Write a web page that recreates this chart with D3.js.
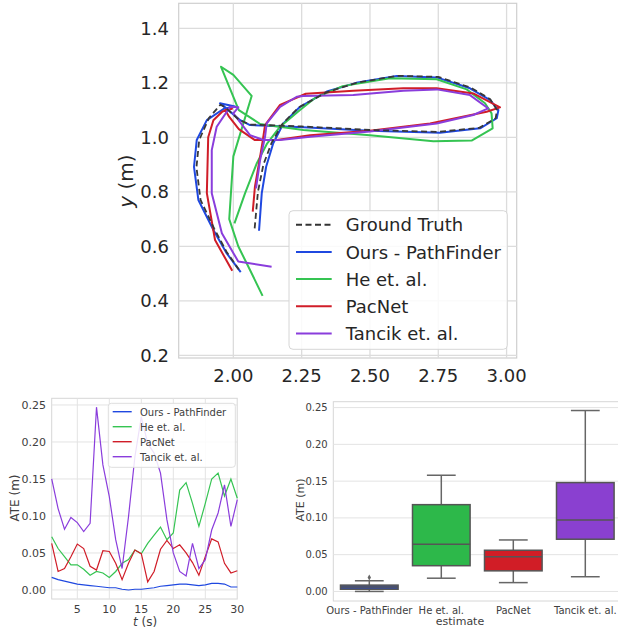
<!DOCTYPE html>
<html>
<head>
<meta charset="utf-8">
<script src="https://cdn.jsdelivr.net/npm/d3@7"></script>
<style>
  body { margin: 0; background: #fff; }
  text { font-family: "DejaVu Sans", sans-serif; fill: #262626; }
</style>
</head>
<body>
<svg id="chart" width="618" height="627"></svg>
<script>
// ---- data ----
const methods = ["Ours - PathFinder", "He et. al.", "PacNet", "Tancik et. al."];
const colors = ["#1f48e0", "#35c452", "#d01d28", "#8a3ddc"];
const boxColors = ["#2a47bd", "#2db84a", "#d11d26", "#8a40d0"];

// trajectories (x, y in m)
const gtPath = [[2.078,0.666],[2.09,0.80],[2.11,0.90],[2.14,0.98],[2.18,1.05],[2.24,1.11],[2.34,1.165],[2.45,1.20],[2.6,1.226],[2.75,1.222],[2.87,1.182],[2.94,1.14],[2.965,1.10],[2.96,1.07],[2.90,1.035],[2.75,1.02],[2.5,1.027],[2.25,1.04],[2.06,1.047],[2.02,1.065],[1.97,1.11],[1.953,1.12],[1.91,1.07],[1.875,0.99],[1.865,0.89],[1.88,0.77],[1.93,0.665],[1.975,0.58],[2.02,0.515]];
const oursPath = [[2.094,0.657],[2.104,0.795],[2.12,0.892],[2.146,0.978],[2.183,1.051],[2.244,1.112],[2.342,1.168],[2.45,1.20],[2.598,1.225],[2.744,1.22],[2.866,1.18],[2.94,1.137],[2.97,1.10],[2.964,1.07],[2.903,1.033],[2.756,1.017],[2.50,1.024],[2.256,1.037],[2.061,1.045],[2.025,1.063],[1.97,1.11],[1.951,1.125],[2.006,1.113],[1.965,1.105],[1.903,1.063],[1.866,0.99],[1.856,0.892],[1.872,0.77],[1.927,0.66],[1.976,0.574],[2.027,0.505]];
const hePath = [[2.004,0.684],[2.043,0.795],[2.086,0.905],[2.124,0.978],[2.171,1.039],[2.244,1.10],[2.30,1.145],[2.40,1.188],[2.573,1.217],[2.744,1.213],[2.854,1.176],[2.921,1.125],[2.945,1.088],[2.949,1.033],[2.872,0.988],[2.732,0.986],[2.50,1.008],[2.256,1.027],[2.122,1.045],[2.098,1.049],[2.02,1.10],[1.955,1.259],[2.0,1.229],[2.067,1.152],[2.0,0.93],[1.985,0.70],[2.018,0.60],[2.061,0.513],[2.107,0.418]];
const pacnetPath = [[2.071,0.727],[2.079,0.819],[2.098,0.929],[2.107,0.984],[2.116,1.045],[2.171,1.119],[2.265,1.160],[2.439,1.171],[2.622,1.18],[2.744,1.18],[2.878,1.161],[2.976,1.11],[2.927,1.094],[2.72,1.051],[2.50,1.024],[2.281,1.008],[2.159,0.99],[2.079,0.99],[2.02,1.03],[1.985,1.075],[1.97,1.10],[1.995,1.105],[1.96,1.095],[1.927,1.063],[1.908,1.0],[1.903,0.795],[1.933,0.623],[1.996,0.51]];
const tancikPath = [[2.083,0.813],[2.098,0.917],[2.116,1.002],[2.122,1.051],[2.171,1.112],[2.232,1.149],[2.256,1.152],[2.439,1.155],[2.622,1.171],[2.744,1.176],[2.866,1.155],[2.933,1.106],[2.878,1.082],[2.744,1.051],[2.50,1.021],[2.281,1.002],[2.171,0.99],[2.11,0.99],[2.061,1.008],[2.0,1.088],[2.018,1.11],[1.988,1.112],[1.939,1.039],[1.921,0.953],[1.921,0.795],[1.958,0.648],[2.018,0.544],[2.14,0.525]];
const paths = [oursPath, hePath, pacnetPath, tancikPath];

// ATE over time
const tSec = d3.range(1, 31);
const ateOurs = [0.017,0.014,0.012,0.010,0.008,0.007,0.006,0.005,0.004,0.003,0.003,0.001,0.000,0.001,0.001,0.002,0.003,0.005,0.006,0.007,0.008,0.008,0.007,0.006,0.007,0.009,0.009,0.008,0.004,0.004];
const ateHe = [0.072,0.056,0.045,0.034,0.034,0.028,0.020,0.025,0.023,0.017,0.025,0.036,0.041,0.054,0.049,0.063,0.074,0.085,0.068,0.077,0.135,0.145,0.117,0.086,0.117,0.150,0.158,0.127,0.150,0.124];
const atePacNet = [0.063,0.025,0.029,0.045,0.062,0.056,0.032,0.027,0.053,0.052,0.036,0.014,0.036,0.054,0.049,0.011,0.025,0.055,0.067,0.056,0.061,0.050,0.037,0.020,0.045,0.069,0.065,0.036,0.023,0.026];
const ateTancik = [0.150,0.110,0.082,0.098,0.091,0.079,0.090,0.247,0.169,0.126,0.068,0.029,0.099,0.180,0.234,0.198,0.185,0.158,0.095,0.050,0.025,0.019,0.063,0.029,0.041,0.081,0.104,0.142,0.086,0.122];
const ateSeries = [ateOurs, ateHe, atePacNet, ateTancik];

// box statistics per method
const boxLow = [0.000, 0.018, 0.012, 0.020];
const boxQ1 = [0.003, 0.035, 0.028, 0.071];
const boxMed = [0.006, 0.064, 0.047, 0.097];
const boxQ3 = [0.0086, 0.118, 0.056, 0.148];
const boxHigh = [0.0145, 0.158, 0.070, 0.246];
const boxOutliers = [[0.019], [], [], []];

const xTicksTop = [2.0, 2.25, 2.5, 2.75, 3.0];
const yTicksTop = [0.2, 0.4, 0.6, 0.8, 1.0, 1.2, 1.4];
const tTicks = [5, 10, 15, 20, 25, 30];
const ateTicks = [0.00, 0.05, 0.10, 0.15, 0.20, 0.25];

const svg = d3.select("#chart");
const gridCol = "#dcdcdc";

// ================= top: trajectories =================
const xT = d3.scaleLinear().domain([1.80, 3.037]).range([178.7, 516.7]);
const yT = d3.scaleLinear().domain([0.19, 1.492]).range([358, 3.3]);
const topG = svg.append("g");
topG.append("rect").attr("x", 178.7).attr("y", 3.3).attr("width", 338).attr("height", 354.7)
  .attr("fill", "#fff").attr("stroke", "#cfcfcf").attr("stroke-width", 1.2);
topG.selectAll(".gx").data(xTicksTop).enter().append("line")
  .attr("x1", d => xT(d)).attr("x2", d => xT(d)).attr("y1", 3.3).attr("y2", 358)
  .attr("stroke", gridCol).attr("stroke-width", 1.3);
topG.selectAll(".gy").data(yTicksTop).enter().append("line")
  .attr("y1", d => yT(d)).attr("y2", d => yT(d)).attr("x1", 178.7).attr("x2", 516.7)
  .attr("stroke", gridCol).attr("stroke-width", 1.3);
topG.selectAll(".tx").data(xTicksTop).enter().append("text")
  .attr("x", d => xT(d)).attr("y", 382).attr("text-anchor", "middle")
  .style("font-size", "18px").text(d3.format(".2f"));
topG.selectAll(".ty").data(yTicksTop).enter().append("text")
  .attr("x", 169).attr("y", d => yT(d) + 6.5).attr("text-anchor", "end")
  .style("font-size", "18px").text(d3.format(".1f"));
const ylabTop = topG.append("text").attr("transform", "translate(133,181) rotate(-90)")
  .attr("text-anchor", "middle").style("font-size", "20px");
ylabTop.append("tspan").style("font-style", "italic").text("y");
ylabTop.append("tspan").text(" (m)");

const lineT = d3.line().x(d => xT(d[0])).y(d => yT(d[1]));
paths.forEach((p, i) => {
  topG.append("path").datum(p).attr("d", lineT).attr("fill", "none")
    .attr("stroke", colors[i]).attr("stroke-width", 2).attr("stroke-linejoin", "round");
});
topG.append("path").datum(gtPath).attr("d", lineT).attr("fill", "none")
  .attr("stroke", "#383838").attr("stroke-width", 1.8).attr("stroke-dasharray", "6,3.5");

// legend top
const legT = topG.append("g");
legT.append("rect").attr("x", 289).attr("y", 210.7).attr("width", 218.3).attr("height", 138.6)
  .attr("rx", 4).attr("fill", "#fff").attr("fill-opacity", 0.85).attr("stroke", "#d6d6d6");
const legNamesTop = ["Ground Truth"].concat(methods);
const legColsTop = ["#333"].concat(colors);
legNamesTop.forEach((n, i) => {
  const y = 224.7 + i * 27.2;
  legT.append("line").attr("x1", 296).attr("x2", 331.7).attr("y1", y).attr("y2", y)
    .attr("stroke", legColsTop[i]).attr("stroke-width", 2)
    .attr("stroke-dasharray", i === 0 ? "6,3.5" : null);
  legT.append("text").attr("x", 345.7).attr("y", y + 6.7).style("font-size", "18px").text(n);
});

// ================= bottom-left: ATE over time =================
const xL = d3.scaleLinear().domain([1, 30]).range([51.7, 237.3]);
const yL = d3.scaleLinear().domain([-0.0122, 0.259]).range([599, 398.3]);
const bl = svg.append("g");
bl.append("rect").attr("x", 51.7).attr("y", 398.3).attr("width", 185.6).attr("height", 200.7)
  .attr("fill", "#fff").attr("stroke", "#d6d6d6");
bl.selectAll(".gx").data(tTicks).enter().append("line")
  .attr("x1", d => xL(d)).attr("x2", d => xL(d)).attr("y1", 398.3).attr("y2", 599)
  .attr("stroke", "#e3e3e3");
bl.selectAll(".gy").data(ateTicks).enter().append("line")
  .attr("y1", d => yL(d)).attr("y2", d => yL(d)).attr("x1", 51.7).attr("x2", 237.3)
  .attr("stroke", "#e3e3e3");
bl.selectAll(".tx").data(tTicks).enter().append("text")
  .attr("x", d => xL(d)).attr("y", 612.5).attr("text-anchor", "middle")
  .style("font-size", "11px").style("fill", "#404040").text(d => d);
bl.selectAll(".ty").data(ateTicks).enter().append("text")
  .attr("x", 46).attr("y", d => yL(d) + 4).attr("text-anchor", "end")
  .style("font-size", "11px").style("fill", "#404040").text(d3.format(".2f"));
bl.append("text").attr("transform", "translate(19,498) rotate(-90)").attr("text-anchor", "middle")
  .style("font-size", "12px").style("fill", "#404040").text("ATE (m)");
const xlabL = bl.append("text").attr("x", 145).attr("y", 625.5).attr("text-anchor", "middle")
  .style("font-size", "12px").style("fill", "#404040");
xlabL.append("tspan").style("font-style", "italic").text("t");
xlabL.append("tspan").text(" (s)");

const lineL = d3.line().x((d, i) => xL(tSec[i])).y(d => yL(d));
ateSeries.forEach((s, i) => {
  bl.append("path").datum(s).attr("d", lineL).attr("fill", "none")
    .attr("stroke", colors[i]).attr("stroke-width", 1.2);
});
const legL = bl.append("g");
legL.append("rect").attr("x", 108.3).attr("y", 403.3).attr("width", 127).attr("height", 64)
  .attr("rx", 3).attr("fill", "#fff").attr("fill-opacity", 0.85).attr("stroke", "#dedede");
methods.forEach((n, i) => {
  const y = 411.7 + i * 15;
  legL.append("line").attr("x1", 112.7).attr("x2", 131.7).attr("y1", y).attr("y2", y)
    .attr("stroke", colors[i]).attr("stroke-width", 1.4);
  legL.append("text").attr("x", 140).attr("y", y + 3.8).style("font-size", "10px")
    .style("fill", "#404040").text(n);
});

// ================= bottom-right: box plot =================
const xB = d3.scaleBand().domain(methods).range([333.3, 621.3]).padding(0);
const yB = d3.scaleLinear().domain([-0.013, 0.258]).range([601, 401.7]);
const br = svg.append("g");
br.append("rect").attr("x", 333.3).attr("y", 401.7).attr("width", 288).attr("height", 199.3)
  .attr("fill", "#fff").attr("stroke", "#d6d6d6");
br.selectAll(".gy").data(ateTicks).enter().append("line")
  .attr("y1", d => yB(d)).attr("y2", d => yB(d)).attr("x1", 333.3).attr("x2", 621.3)
  .attr("stroke", "#e3e3e3");
br.selectAll(".ty").data(ateTicks).enter().append("text")
  .attr("x", 327.7).attr("y", d => yB(d) + 3.6).attr("text-anchor", "end")
  .style("font-size", "10px").style("fill", "#404040").text(d3.format(".2f"));
br.selectAll(".tx").data(methods).enter().append("text")
  .attr("x", d => xB(d) + xB.bandwidth() / 2).attr("y", 614).attr("text-anchor", "middle")
  .style("font-size", "10px").style("fill", "#404040").text(d => d);
br.append("text").attr("transform", "translate(304,500) rotate(-90)").attr("text-anchor", "middle")
  .style("font-size", "11px").style("fill", "#404040").text("ATE (m)");
br.append("text").attr("x", 460).attr("y", 625).attr("text-anchor", "middle")
  .style("font-size", "11px").style("fill", "#404040").text("estimate");

const bw = xB.bandwidth() * 0.8;
const lineGray = "#666";
methods.forEach((m, i) => {
  const cx = xB(m) + xB.bandwidth() / 2;
  const g = br.append("g");
  g.append("line").attr("x1", cx).attr("x2", cx).attr("y1", yB(boxQ3[i])).attr("y2", yB(boxHigh[i]))
    .attr("stroke", lineGray).attr("stroke-width", 1.5);
  g.append("line").attr("x1", cx).attr("x2", cx).attr("y1", yB(boxQ1[i])).attr("y2", yB(boxLow[i]))
    .attr("stroke", lineGray).attr("stroke-width", 1.5);
  [boxHigh[i], boxLow[i]].forEach(v => {
    g.append("line").attr("x1", cx - bw / 4).attr("x2", cx + bw / 4).attr("y1", yB(v)).attr("y2", yB(v))
      .attr("stroke", lineGray).attr("stroke-width", 1.5);
  });
  g.append("rect").attr("x", cx - bw / 2).attr("width", bw)
    .attr("y", yB(boxQ3[i])).attr("height", yB(boxQ1[i]) - yB(boxQ3[i]))
    .attr("fill", boxColors[i]).attr("stroke", "#555").attr("stroke-width", 1.5);
  g.append("line").attr("x1", cx - bw / 2).attr("x2", cx + bw / 2).attr("y1", yB(boxMed[i])).attr("y2", yB(boxMed[i]))
    .attr("stroke", "#555").attr("stroke-width", 1.5);
  boxOutliers[i].forEach(v => {
    g.append("path").attr("transform", `translate(${cx},${yB(v)})`)
      .attr("d", d3.symbol().type(d3.symbolDiamond).size(10)).attr("fill", lineGray);
  });
});
</script>
</body>
</html>
